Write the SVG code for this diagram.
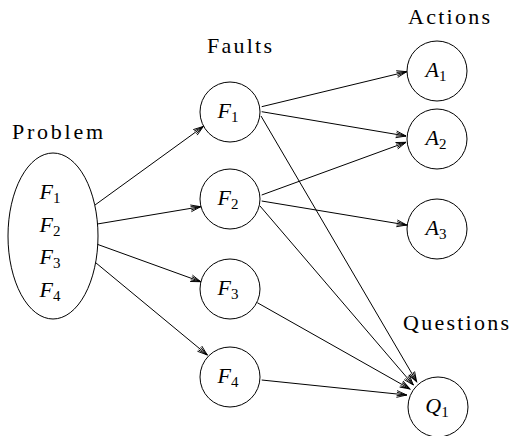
<svg xmlns="http://www.w3.org/2000/svg" width="510" height="436" viewBox="0 0 510 436">
  <style>
    .shape { fill: none; stroke: #000; stroke-width: 1; }
    .edge { fill: none; stroke: #000; stroke-width: 1; }
    .lbl { font-family: "Liberation Serif", "Times New Roman", serif; font-size: 22px; fill: #000; }
    .math { font-family: "Liberation Serif", "Times New Roman", serif; font-size: 22px; font-style: italic; fill: #000; }
    .sub { font-style: normal; font-size: 15px; }
  </style>
  <defs>
    <marker id="arrow" markerUnits="userSpaceOnUse" markerWidth="14" markerHeight="10" viewBox="-11 -5 12 10" refX="0" refY="0" orient="auto">
      <path d="M-10,-3.4 L0,0 L-10,3.4 M-10,-1.7 L0,0 L-10,1.7" fill="none" stroke="#000" stroke-width="0.9"/>
    </marker>
  </defs>
  <rect width="510" height="436" fill="#fff"/>

  <!-- column headings -->
  <text class="lbl" x="12" y="139" textLength="91" lengthAdjust="spacing">Problem</text>
  <text class="lbl" x="207" y="53" textLength="65" lengthAdjust="spacing">Faults</text>
  <text class="lbl" x="408" y="24" textLength="82" lengthAdjust="spacing">Actions</text>
  <text class="lbl" x="403" y="330" textLength="106" lengthAdjust="spacing">Questions</text>

  <!-- connectors -->
  <g id="connectors" marker-end="url(#arrow)">
    <line class="edge" x1="95" y1="205" x2="203.3" y2="126.5"/>
    <line class="edge" x1="97.3" y1="224" x2="200.7" y2="206.7"/>
    <line class="edge" x1="97.3" y1="244.3" x2="200.7" y2="281.7"/>
    <line class="edge" x1="95.7" y1="262.7" x2="207.3" y2="355"/>
    <line class="edge" x1="261.7" y1="106.7" x2="406.7" y2="71.7"/>
    <line class="edge" x1="261.7" y1="111.7" x2="406" y2="136"/>
    <line class="edge" x1="261" y1="116" x2="416.7" y2="381.7"/>
    <line class="edge" x1="261.7" y1="195" x2="406" y2="142.3"/>
    <line class="edge" x1="261.7" y1="201" x2="406.7" y2="225"/>
    <line class="edge" x1="260" y1="206" x2="413.3" y2="385"/>
    <line class="edge" x1="257.3" y1="302.7" x2="410" y2="389"/>
    <line class="edge" x1="261.7" y1="380" x2="406.7" y2="395"/>
  </g>

  <!-- problem node -->
  <g id="problem">
    <ellipse class="shape" cx="53" cy="236" rx="45" ry="83"/>
    <text class="math" x="50" y="199" text-anchor="middle">F<tspan class="sub" dy="4">1</tspan></text>
    <text class="math" x="50" y="231.5" text-anchor="middle">F<tspan class="sub" dy="4">2</tspan></text>
    <text class="math" x="50" y="264" text-anchor="middle">F<tspan class="sub" dy="4">3</tspan></text>
    <text class="math" x="50" y="296.5" text-anchor="middle">F<tspan class="sub" dy="4">4</tspan></text>
  </g>

  <!-- fault nodes -->
  <g id="f1">
    <circle class="shape" cx="230" cy="112" r="30"/>
    <text class="math" x="228" y="118" text-anchor="middle">F<tspan class="sub" dy="4">1</tspan></text>
  </g>
  <g id="f2">
    <circle class="shape" cx="230" cy="199" r="30"/>
    <text class="math" x="228" y="205" text-anchor="middle">F<tspan class="sub" dy="4">2</tspan></text>
  </g>
  <g id="f3">
    <circle class="shape" cx="230" cy="289" r="30"/>
    <text class="math" x="228" y="295" text-anchor="middle">F<tspan class="sub" dy="4">3</tspan></text>
  </g>
  <g id="f4">
    <circle class="shape" cx="230" cy="377" r="30"/>
    <text class="math" x="228" y="383" text-anchor="middle">F<tspan class="sub" dy="4">4</tspan></text>
  </g>

  <!-- action nodes -->
  <g id="a1">
    <circle class="shape" cx="437" cy="71" r="30"/>
    <text class="math" x="436" y="77" text-anchor="middle">A<tspan class="sub" dy="4">1</tspan></text>
  </g>
  <g id="a2">
    <circle class="shape" cx="437" cy="139" r="30"/>
    <text class="math" x="436" y="145" text-anchor="middle">A<tspan class="sub" dy="4">2</tspan></text>
  </g>
  <g id="a3">
    <circle class="shape" cx="437" cy="229" r="30"/>
    <text class="math" x="436" y="235" text-anchor="middle">A<tspan class="sub" dy="4">3</tspan></text>
  </g>

  <!-- question node -->
  <g id="q1">
    <circle class="shape" cx="438" cy="407" r="30"/>
    <text class="math" x="437" y="413" text-anchor="middle">Q<tspan class="sub" dy="4">1</tspan></text>
  </g>
</svg>
